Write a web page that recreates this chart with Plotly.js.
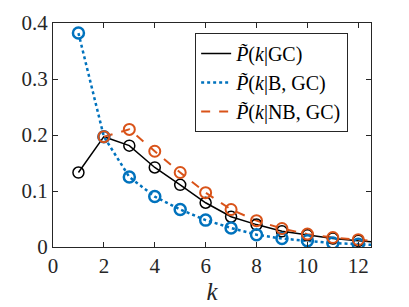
<!DOCTYPE html>
<html><head><meta charset="utf-8">
<script src="https://cdn.plot.ly/plotly-3.0.1.min.js"></script>
<style>html,body{margin:0;padding:0;background:#fff}#chart{width:409px;height:307px}</style>
</head><body><div id="chart"></div>
<script>
const kAll = [1,2,3,4,5,6,7,8,9,10,11,12,13];
const pGC = [0.133,0.197,0.181,0.142,0.111,0.079,0.054,0.040,0.028,0.021,0.015,0.011,0.008];
const pB  = [0.382,0.197,0.125,0.090,0.067,0.048,0.034,0.022,0.015,0.011,0.007,0.005,0.003];
const kNB = [2,3,4,5,6,7,8,9,10,11,12,13];
const pNB = [0.197,0.210,0.171,0.133,0.097,0.067,0.047,0.033,0.023,0.017,0.013,0.009];
const names = ['<i>P̃</i>(<i>k</i>|GC)','<i>P̃</i>(<i>k</i>|B, GC)','<i>P̃</i>(<i>k</i>|NB, GC)'];
const xTicks = [0,2,4,6,8,10,12];
const yTicks = [0,0.1,0.2,0.3,0.4];
const yTickText = ['0','0.1','0.2','0.3','0.4'];

const serif = 'Liberation Serif';
const cBlack='#000000', cBlue='#0072BD', cRed='#D95319';
const traces = [
 {x:kAll,y:pGC,mode:'lines',name:names[0],line:{color:cBlack,width:1.5}},
 {x:kAll,y:pB,mode:'lines',name:names[1],line:{color:cBlue,width:2.5,dash:'dot'}},
 {x:kNB,y:pNB,mode:'lines',name:names[2],line:{color:cRed,width:2,dash:'dash'}},
 {x:kAll,y:pGC,mode:'markers',showlegend:false,marker:{symbol:'circle-open',size:11,color:cBlack,line:{width:1.5,color:cBlack}}},
 {x:kAll,y:pB,mode:'markers',showlegend:false,marker:{symbol:'circle-open',size:11,color:cBlue,line:{width:2.5,color:cBlue}}},
 {x:kNB,y:pNB,mode:'markers',showlegend:false,marker:{symbol:'circle-open',size:11,color:cRed,line:{width:2,color:cRed}}}
];
const axCommon = {showgrid:false,zeroline:false,showline:true,mirror:'ticks',linecolor:'#262626',linewidth:1,
  ticks:'inside',ticklen:5,tickcolor:'#262626',tickfont:{family:serif,size:21,color:'#262626'}};
const layout = {
  width:409,height:307,margin:{l:53,r:38,t:23,b:60},
  paper_bgcolor:'#fff',plot_bgcolor:'#fff',
  font:{family:serif},
  xaxis:Object.assign({},axCommon,{range:[0,12.5],tickvals:xTicks,ticktext:xTicks.map(String),
    title:{text:'<i>k</i>',font:{family:serif,size:25,color:'#262626'},standoff:0}}),
  yaxis:Object.assign({},axCommon,{range:[0,0.4],tickvals:yTicks,ticktext:yTickText}),
  legend:{x:0.447,y:0.955,xanchor:'left',yanchor:'top',bgcolor:'#fff',bordercolor:'#262626',borderwidth:1,
    font:{family:serif,size:20,color:'#000'},tracegroupgap:0,itemwidth:30},
  showlegend:true
};
Plotly.newPlot('chart',traces,layout,{staticPlot:true,displayModeBar:false});
</script></body></html>
